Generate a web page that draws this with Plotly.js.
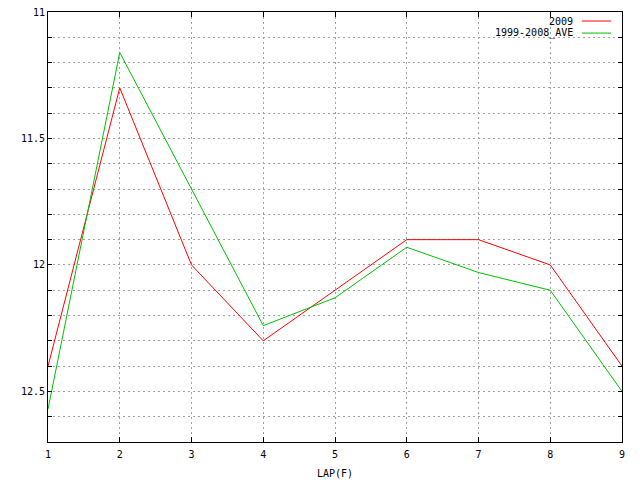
<!DOCTYPE html>
<html>
<head>
<meta charset="utf-8">
<script src="https://cdn.plot.ly/plotly-3.0.1.min.js"></script>
<style>html,body{margin:0;padding:0;background:#fff;}#chart{width:640px;height:480px;}</style>
</head>
<body>
<div id="chart"></div>
<script>
const laps = [1, 2, 3, 4, 5, 6, 7, 8, 9];
const series2009 = [12.4, 11.3, 12.0, 12.3, 12.1, 11.9, 11.9, 12.0, 12.4];
const seriesAve = [12.57, 11.16, 11.7, 12.24, 12.13, 11.93, 12.03, 12.1, 12.5];
const seriesNames = ['2009', '1999-2008_AVE'];
const seriesColors = ['#ff0000', '#00c000'];
const yTickVals = [11, 11.1, 11.2, 11.3, 11.4, 11.5, 11.6, 11.7, 11.8, 11.9, 12, 12.1, 12.2, 12.3, 12.4, 12.5, 12.6, 12.7];
const yTickText = ['11', '', '', '', '', '11.5', '', '', '', '', '12', '', '', '', '', '12.5', '', ''];

const font = {family: '"DejaVu Sans Mono", monospace', size: 10, color: '#000'};

const traces = [
  {x: laps, y: series2009, name: seriesNames[0], mode: 'lines', line: {color: seriesColors[0], width: 1}},
  {x: laps, y: seriesAve, name: seriesNames[1], mode: 'lines', line: {color: seriesColors[1], width: 1}}
];

const legendY = [0.979, 0.951];
const annotations = seriesNames.map((n, i) => ({
  xref: 'paper', yref: 'paper', x: 0.918, y: legendY[i], xanchor: 'right', yanchor: 'middle',
  text: n, showarrow: false, font: font
}));
const shapes = seriesNames.map((n, i) => ({
  type: 'line', xref: 'paper', yref: 'paper', x0: 0.930, x1: 0.981, y0: legendY[i], y1: legendY[i],
  line: {color: seriesColors[i], width: 1}
}));

const layout = {
  width: 640, height: 480,
  margin: {l: 48, r: 18, t: 12, b: 38},
  paper_bgcolor: '#fff', plot_bgcolor: '#fff',
  showlegend: false,
  font: font,
  xaxis: {
    range: [1, 9], tickvals: laps, ticktext: laps.map(String),
    showgrid: true, gridcolor: '#a0a0a0', griddash: '2px,3px', gridwidth: 1,
    zeroline: false, showline: true, linecolor: '#000', linewidth: 1, mirror: 'ticks',
    ticks: 'inside', ticklen: 5, tickcolor: '#000', ticklabelstandoff: 3,
    title: {text: 'LAP(F)', font: font, standoff: 10},
    tickfont: font
  },
  yaxis: {
    range: [12.7, 11], tickvals: yTickVals, ticktext: yTickText,
    showgrid: true, gridcolor: '#a0a0a0', griddash: '2px,3px', gridwidth: 1,
    zeroline: false, showline: true, linecolor: '#000', linewidth: 1, mirror: 'ticks',
    ticks: 'inside', ticklen: 4, tickcolor: '#000',
    tickfont: font
  },
  annotations: annotations,
  shapes: shapes
};

Plotly.newPlot('chart', traces, layout, {staticPlot: true, displayModeBar: false});
</script>
</body>
</html>
